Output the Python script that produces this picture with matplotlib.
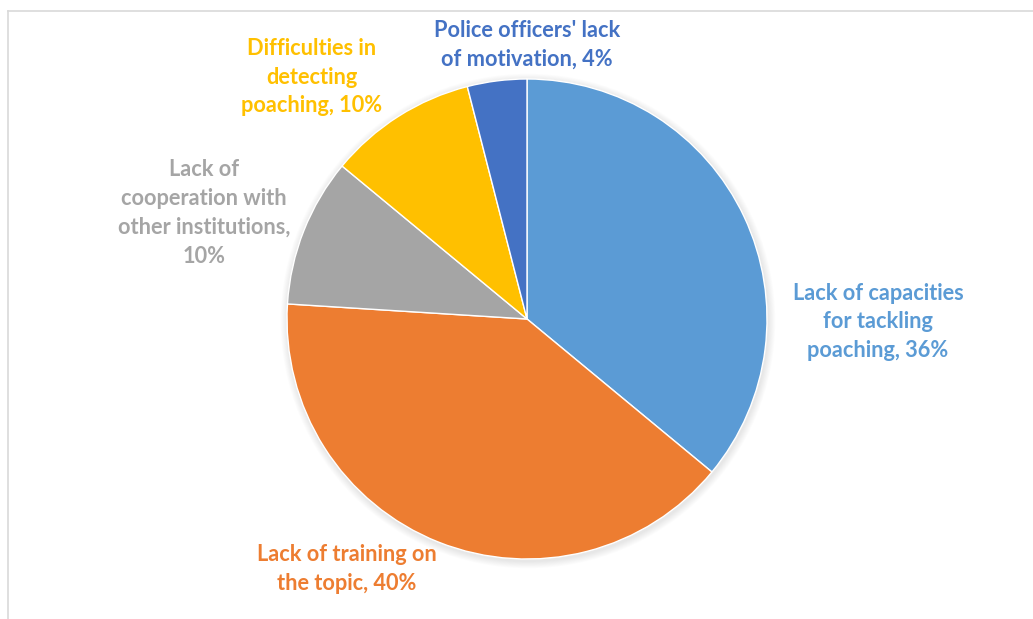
import matplotlib
matplotlib.use('Agg')
import matplotlib.pyplot as plt
from matplotlib.lines import Line2D

# Share of respondents per reported obstacle
categories = [
    "Lack of capacities\nfor tackling\npoaching",
    "Lack of training on\nthe topic",
    "Lack of\ncooperation with\nother institutions,",
    "Difficulties in\ndetecting\npoaching",
    "Police officers' lack\nof motivation",
]
shares = [36, 40, 10, 10, 4]
colors = ['#5B9BD5', '#ED7D31', '#A5A5A5', '#FFC000', '#4472C4']

# label anchor points (pixel coordinates, origin top-left)
label_xy = [(878, 322), (347, 569), (204, 213), (312, 77), (527, 45)]

W, H = 1033, 619
fig = plt.figure(figsize=(W / 100, H / 100), dpi=100)
ax = fig.add_axes([0, 0, 1, 1])

cx, cy, r = 527, H - 319, 240

# soft drop shadow under the pie
for k in range(8):
    ax.add_patch(plt.Circle((cx + 1, cy - 2), r + 1 + k * 0.9, color='black',
                            alpha=0.012, lw=0, zorder=0))

ax.pie(shares, colors=colors, startangle=90, counterclock=False,
       center=(cx, cy), radius=r, frame=True,
       wedgeprops=dict(edgecolor='white', linewidth=1.0))
ax.set_xlim(0, W)
ax.set_ylim(0, H)
ax.axis('off')

for name, val, col, (x, y) in zip(categories, shares, colors, label_xy):
    if name.endswith(','):
        text = f"{name}\n{val}%"
    else:
        text = f"{name}, {val}%"
    ax.text(x, H - y, text, ha='center', va='center', multialignment='center',
            color=col, fontsize=15.7, fontweight='bold', family='Lato',
            linespacing=1.47)

# chart-area border (top and left edges visible)
fig.add_artist(Line2D([8 / W, 1], [1 - 11 / H, 1 - 11 / H], color='#D9D9D9', lw=1.2))
fig.add_artist(Line2D([8 / W, 8 / W], [0, 1 - 11 / H], color='#D9D9D9', lw=1.2))

fig.savefig('out.png', dpi=100)
